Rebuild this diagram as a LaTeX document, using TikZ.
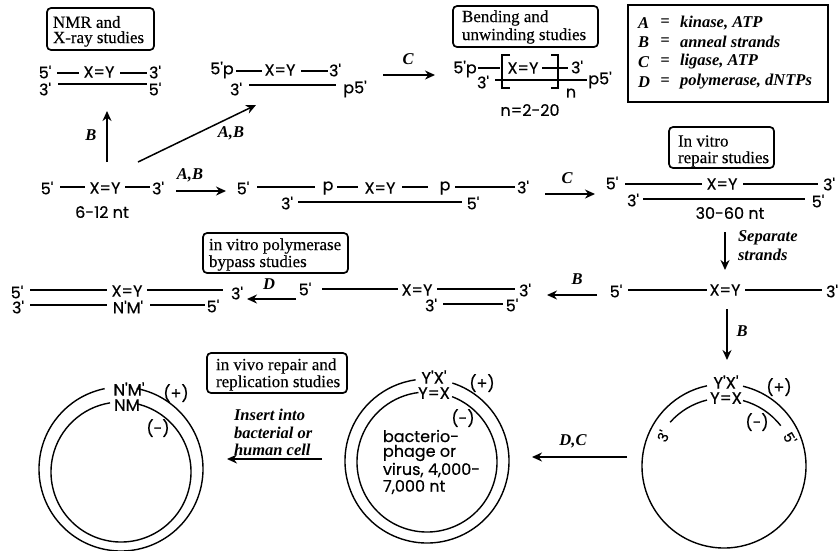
\documentclass[tikz,border=0pt]{standalone}
\usepackage{fontspec}
\setmainfont{Liberation Serif}
\newfontfamily\geo[FakeBold=0.5]{Poppins}
\newfontfamily\studfont[FakeBold=0.3]{Liberation Serif}
\usetikzlibrary{arrows.meta}
\tikzset{
  every node/.style={inner sep=0pt,outer sep=0pt},
  sans/.style={font=\geo\fontsize{16}{18}\selectfont},
  toplab/.style={font=\geo\fontsize{16.5}{18}\selectfont},
  small/.style={font=\geo\fontsize{14}{16}\selectfont},
  lab/.style={font=\fontsize{16.5}{18}\selectfont\bfseries\itshape},
  stud/.style={font=\studfont\fontsize{17}{19}\selectfont,anchor=west},
  studbox/.style={draw,line width=1.7pt,rounded corners=4pt},
  strand/.style={line width=1.2pt},
  thick strand/.style={line width=1.8pt},
  ring/.style={line width=1.4pt},
  flow/.style={line width=1.5pt,-{Stealth[length=10pt,width=9pt]}},
}
\begin{document}
\begin{tikzpicture}[x=1pt,y=-1pt]
\useasboundingbox (0,0) rectangle (840,550);
% study boxes
\draw[studbox] (47,8) rectangle (154,50);
\node[stud] (s1a) at (53,22) {NMR and};
\node[stud] (s1b) at (53,39) {X-ray studies};
\draw[studbox] (453,6) rectangle (598,47);
\node[stud] (s2a) at (462,18) {Bending and};
\node[stud] (s2b) at (462,36) {unwinding studies};
\draw[studbox] (669,127) rectangle (774,168);
\node[stud] (s3a) at (678,141) {In vitro};
\node[stud] (s3b) at (678,159) {repair studies};
\draw[studbox] (203,233) rectangle (348,273);
\node[stud] (s4a) at (209,246) {in vitro polymerase};
\node[stud] (s4b) at (209,263) {bypass studies};
\draw[studbox] (207,353) rectangle (347,393);
\node[stud] (s5a) at (216,366) {in vivo repair and};
\node[stud] (s5b) at (216,383) {replication studies};
% legend
\draw[line width=1.2pt] (628,5) rectangle (828,102);
\foreach \n/\l/\t/\y in {la/A/kinase{,} ATP/23,lb/B/anneal strands/42,lc/C/ligase{,} ATP/62,ld/D/polymerase{,} dNTPs/82}{
  \node[lab,anchor=west] (\n1) at (638,\y) {\l};
  \node[lab] (\n2) at (665,\y) {=};
  \node[lab,anchor=west] (\n3) at (680,\y) {\t};
}
% NMR duplex
\node[sans] (a1) at (45,72) {5'};
\node[sans] (a2) at (99,72) {X=Y};
\node[sans] (a3) at (155,72) {3'};
\node[sans] (a4) at (45,89) {3'};
\node[sans] (a5) at (155,89) {5'};
\draw[strand] (57,73) -- (79,73) (120,73) -- (147,73);
\draw[thick strand] (58,84) -- (147,84);
% phosphorylated duplex
\node[sans] (b1) at (222,70) {5'p};
\node[sans] (b2) at (280,70) {X=Y};
\node[sans] (b3) at (335,70) {3'};
\node[sans] (b4) at (236,89) {3'};
\node[sans] (b5) at (355,89) {p5'};
\draw[strand] (236,71) -- (262,71) (301,71) -- (328,71);
\draw[strand] (249,85) -- (336,85);
% polymer
\node[sans] (c1) at (465,69) {5'p};
\node[sans] (c2) at (523,68) {X=Y};
\node[sans] (c3) at (577,67) {3'};
\node[sans] (c4) at (483,82) {3'};
\node[sans] (c5) at (600,80) {p5'};
\node[sans] (c6) at (571,93) {n};
\node[sans] (c7) at (530,110) {n=2-20};
\draw[strand] (478,68) -- (500,68) (542,68) -- (568,68) (495,80) -- (587,80);
\draw[line width=1.3pt] (510,55) -- (502,55) -- (502,88) -- (510,88);
\draw[line width=1.3pt] (551,55) -- (558,55) -- (558,88) -- (551,88);
% row 2, oligomer
\node[sans] (d1) at (47,188) {5'};
\node[sans] (d2) at (105,188) {X=Y};
\node[sans] (d3) at (158,188) {3'};
\node[sans] (d4) at (102,212) {6-12 nt};
\draw[strand] (60,187) -- (85,187) (125,187) -- (150,187);
% row 2, three pieces
\node[sans] (e1) at (243,188) {5'};
\node[sans] (e2) at (328,188) {p};
\node[sans] (e3) at (380,188) {X=Y};
\node[sans] (e4) at (445,188) {p};
\node[sans] (e5) at (523,187) {3'};
\node[sans] (e6) at (287,203) {3'};
\node[sans] (e7) at (473,203) {5'};
\draw[strand] (257,187) -- (315,187) (337,187) -- (358,187) (402,187) -- (428,187) (455,187) -- (515,187);
\draw[strand] (298,202) -- (462,202);
% row 2, ligated
\node[sans] (f1) at (612,183) {5'};
\node[sans] (f2) at (722,184) {X=Y};
\node[sans] (f3) at (829,184) {3'};
\node[sans] (f4) at (633,200) {3'};
\node[sans] (f5) at (818,201) {5'};
\node[sans] (f6) at (730,213) {30-60 nt};
\draw[strand] (625,184) -- (702,184) (743,184) -- (818,184);
\draw[thick strand] (643,199) -- (805,199);
% row 3, single strand
\node[sans] (g1) at (616,291) {5'};
\node[sans] (g2) at (725,290) {X=Y};
\node[sans] (g3) at (832,291) {3'};
\draw[strand] (628,290) -- (707,290) (745,290) -- (822,290);
% row 3, primer
\node[sans] (h1) at (305,289) {5'};
\node[sans] (h2) at (417,290) {X=Y};
\node[sans] (h3) at (525,290) {3'};
\node[sans] (h4) at (431,305) {3'};
\node[sans] (h5) at (512,305) {5'};
\draw[strand] (322,289) -- (398,289);
\draw[thick strand] (437,289) -- (515,289);
\draw[thick strand] (443,304) -- (503,304);
% row 3, bypass
\node[sans] (i1) at (17,292) {5'};
\node[sans] (i2) at (127,291) {X=Y};
\node[sans] (i3) at (237,293) {3'};
\node[sans] (i4) at (18,307) {3'};
\node[sans] (i5) at (128,307) {N'M'};
\node[sans] (i6) at (213,306) {5'};
\draw[thick strand] (30,290) -- (107,290) (147,290) -- (223,290);
\draw[thick strand] (30,305) -- (107,305) (150,305) -- (205,305);
% left circle
\draw[ring] (121,469) ++(281:82) arc[start angle=281,end angle=618.5,radius=82];
\draw[ring] (121,472) ++(283:70) arc[start angle=283,end angle=621,radius=70];
\node[toplab] (j1) at (129,389) {N'M'};
\node[toplab] (j2) at (127,405) {NM};
\node[sans] (j3) at (176,393) {(+)};
\node[sans] (j4) at (158,428) {(-)};
% middle circle
\draw[ring] (427,461) ++(288:82) arc[start angle=288,end angle=622,radius=82];
\draw[ring] (427,462) ++(291:70) arc[start angle=291,end angle=623,radius=70];
\node[toplab] (k1) at (434,377) {Y'X'};
\node[toplab] (k2) at (434,393) {Y=X};
\node[sans] (k3) at (482,383) {(+)};
\node[sans] (k4) at (463,418) {(-)};
\node[sans,anchor=west] (k5) at (383,436) {bacterio-};
\node[sans,anchor=west] (k6) at (383,453) {phage or};
\node[sans,anchor=west] (k7) at (383,470) {virus, 4,000-};
\node[sans,anchor=west] (k8) at (383,487) {7,000 nt};
% right circle
\draw[ring] (724,466) ++(283.4:82) arc[start angle=283.4,end angle=618,radius=82];
\draw[ring] (724,470) ++(285.3:72) arc[start angle=285.3,end angle=322,radius=72];
\draw[ring] (724,470) ++(256.3:72) arc[start angle=256.3,end angle=221.6,radius=72];
\node[toplab] (m1) at (726,382) {Y'X'};
\node[toplab] (m2) at (726,398) {Y=X};
\node[sans] (m3) at (779,387) {(+)};
\node[sans] (m4) at (757,422) {(-)};
\node[small,rotate=65] (m5) at (663,436) {3'};
\node[small,rotate=-60] (m6) at (790,438) {5'};
% arrows
\foreach \n/\ax/\ay/\bx/\by in {
  t1/107/162/107/111, t2/138/162/256/105, t3/383/75/435/75,
  t4/176/191/226/191, t5/545/194/595/194, t6/725/232/725/270,
  t7/597/295/547/295, t8/727/309/727/360, t9/296/299/247/299,
  t10/627/457/532/457, t11/322/459/227/459}{
  \coordinate (\n s) at (\ax,\ay);
  \coordinate (\n e) at (\bx,\by);
  \draw[flow] (\n s) -- (\n e);
}
% arrow labels
\node[lab] (n1) at (91,135) {B};
\node[lab] (n2) at (231,133) {A,B};
\node[lab] (n3) at (408,59) {C};
\node[lab] (n4) at (190,175) {A,B};
\node[lab] (n5) at (567,178) {C};
\node[lab,anchor=west] (n6) at (738,238) {Separate};
\node[lab,anchor=west] (n7) at (738,255) {strands};
\node[lab] (n8) at (577,279) {B};
\node[lab] (n9) at (742,331) {B};
\node[lab] (n10) at (269,284) {D};
\node[lab] (n11) at (573,441) {D,C};
\node[lab,anchor=west] (n12) at (234,415) {Insert into};
\node[lab,anchor=west] (n13) at (234,433) {bacterial or};
\node[lab,anchor=west] (n14) at (234,450) {human cell};
\end{tikzpicture}
\end{document}
